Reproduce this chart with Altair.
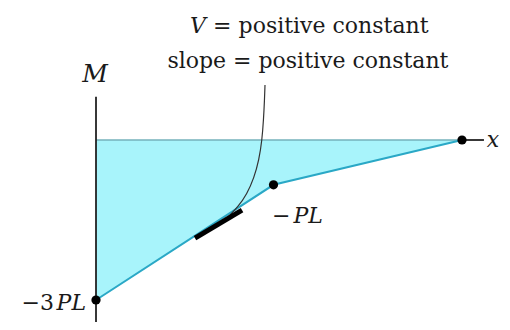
import altair as alt
import pandas as pd

# Bending-moment diagram, x in units of L, M in units of PL
xs = [0.0, 0.97, 2.0]
ms = [-3.0, -0.84, 0.0]

# short thick tangent segment on the first straight part
seg_x = [0.541, 0.798]
seg_m = [-1.838, -1.313]

# leader curve from the annotation to the tangent segment
lead_x = [0.9235, 0.9208, 0.9153, 0.9071, 0.8907, 0.8634, 0.8251, 0.7760, 0.7213]
lead_m = [1.031, 0.750, 0.375, 0.0, -0.375, -0.7125, -1.0125, -1.256, -1.444]

# axes lines
vaxis_x = [0.0, 0.0]
vaxis_m = [0.81, -3.6]
haxis_x = [2.0, 2.12]
haxis_m = [0.0, 0.0]

# text labels
label_text = ["V", "= positive constant", "slope = positive constant", "M",
              "\u22123", "PL", "\u2212", "PL", "x"]
label_x = [0.514, 0.640, 1.158, -0.005, -0.230, -0.0546, 0.962, 1.240, 2.135]
label_m = [2.006, 2.006, 1.35, 1.0875, -3.1875, -3.1875, -1.556, -1.556, -0.131]
label_align = ["left", "left", "center", "center", "right", "right", "left", "right", "left"]
label_style = ["italic", "normal", "normal", "italic", "normal", "italic", "normal", "italic", "italic"]
label_size = [22, 22, 22, 25, 22, 22, 22, 22, 22]

FONT = "DejaVu Serif"

W, H = 494, 314
xscale = alt.Scale(domain=[-0.4809, 2.2186], nice=False, zero=False)
yscale = alt.Scale(domain=[-3.4125, 2.475], nice=False, zero=False)

def X(f="x"):
    return alt.X(f"{f}:Q", scale=xscale, axis=None)

def Y(f="m"):
    return alt.Y(f"{f}:Q", scale=yscale, axis=None)

main = pd.DataFrame({"x": xs, "m": ms, "zero": [0.0] * len(xs), "o": range(len(xs))})
seg = pd.DataFrame({"x": seg_x, "m": seg_m, "o": range(len(seg_x))})
lead = pd.DataFrame({"x": lead_x, "m": lead_m, "o": range(len(lead_x))})
vax = pd.DataFrame({"x": vaxis_x, "m": vaxis_m, "o": [0, 1]})
hax = pd.DataFrame({"x": haxis_x, "m": haxis_m, "o": [0, 1]})
labels = pd.DataFrame({"t": label_text, "x": label_x, "m": label_m,
                       "a": label_align, "s": label_style, "z": label_size})

area = alt.Chart(main).mark_area(fill="#a8f4fb", fillOpacity=1, opacity=1).encode(
    x=X(), y=Y(), y2=alt.Y2("zero"))

zero_edge = alt.Chart(main).mark_line(color="#74b2bb", strokeWidth=1.4).encode(
    x=X(), y=Y("zero"), order="o:Q")

mline = alt.Chart(main).mark_line(color="#2aa8c6", strokeWidth=2).encode(
    x=X(), y=Y(), order="o:Q")

vline = alt.Chart(vax).mark_line(color="#222222", strokeWidth=1.8).encode(
    x=X(), y=Y(), order="o:Q")

hline = alt.Chart(hax).mark_line(color="#222222", strokeWidth=1.8).encode(
    x=X(), y=Y(), order="o:Q")

leader = alt.Chart(lead).mark_line(color="#333333", strokeWidth=1.2,
                                   interpolate="basis").encode(
    x=X(), y=Y(), order="o:Q")

tangent = alt.Chart(seg).mark_line(color="#000000", strokeWidth=5, strokeCap="butt").encode(
    x=X(), y=Y(), order="o:Q")

dots = alt.Chart(main).mark_point(filled=True, color="#000000", size=85, opacity=1).encode(
    x=X(), y=Y())

def text_layer(align, style):
    d = labels[(labels.a == align) & (labels.s == style)]
    return alt.Chart(d).mark_text(align=align, baseline="alphabetic", font=FONT,
                                  fontStyle=style, color="#1a1a1a").encode(
        x=X(), y=Y(), text="t:N", size=alt.Size("z:Q", scale=None, legend=None))

texts = [text_layer(a, s) for a in ["left", "center", "right"] for s in ["normal", "italic"]
         if len(labels[(labels.a == a) & (labels.s == s)])]

chart = alt.layer(area, zero_edge, mline, vline, hline, leader, tangent, dots, *texts).properties(
    width=W, height=H, autosize=alt.AutoSizeParams(type="none"), padding=0,
    background="white"
).configure_view(stroke=None)

chart.save("out.html", embed_options={"renderer": "svg", "actions": False})
